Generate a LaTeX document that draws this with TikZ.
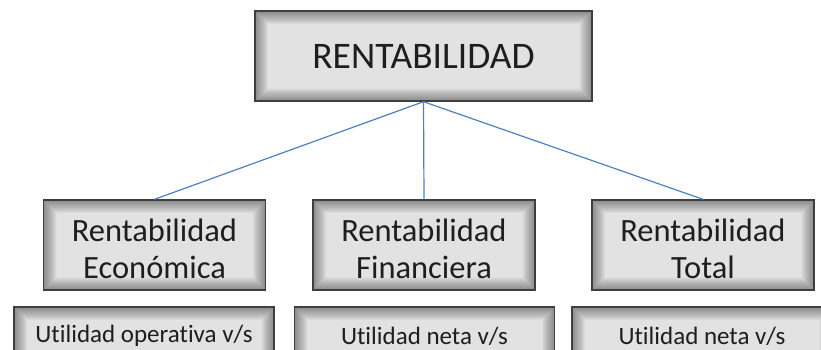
\documentclass[tikz,border=0pt]{standalone}
\usepackage{fontspec}
\setmainfont{Carlito}[Ligatures=NoCommon, Contextuals=NoAlternate, RawFeature={-liga;-clig;-dlig}]
\definecolor{BoxBorder}{HTML}{3F3F3F}
\definecolor{BoxFill}{HTML}{E2E2E2}
\definecolor{LinkBlue}{HTML}{4F81BD}
\definecolor{TextDark}{HTML}{1E1E1E}
% two centred lines, set a little lower in the box
\newcommand{\twolines}[2]{\raisebox{-7.5pt}[\height][\depth]{\begin{tabular}{@{}c@{}}#1\\#2\end{tabular}}}

\begin{document}
\begin{tikzpicture}[
        x=1pt, y=-1pt,
        box/.style={
            rectangle, draw=BoxBorder, line width=1.4pt, fill=BoxFill,
            text=TextDark, align=center, inner sep=0pt,
            path picture={
                \foreach \w in {1,2,...,26}
                    \draw[black, opacity=0.015, line width=\w pt]
                        (path picture bounding box.south west) rectangle (path picture bounding box.north east);
            }
        },
        topbox/.style={box, minimum width=337pt, minimum height=90pt, font=\fontsize{37.5}{40}\selectfont},
        midbox/.style={box, minimum width=222pt, minimum height=90pt, font=\fontsize{32.5}{37}\selectfont},
        lowbox/.style={box, minimum width=260pt, minimum height=58pt, font=\fontsize{25}{30}\selectfont},
        link/.style={LinkBlue, line width=1.2pt}
    ]
    \clip (0,0) rectangle (821,349);

    % Top
    \node (rent) [topbox] at (423.5, 56) {RENTABILIDAD};

    % Middle row
    \node (eco) [midbox] at (154.5, 245) {\twolines{Rentabilidad}{Económica}};
    \node (fin) [midbox] at (424, 245) {\twolines{Rentabilidad}{Financiera}};
    \node (tot) [midbox] at (703, 245) {\twolines{Rentabilidad}{Total}};

    % Lower row
    \node (ecodef) [lowbox] at (144, 336) {Utilidad operativa v/s};
    \node (findef) [lowbox] at (424.5, 336) {Utilidad neta v/s};
    \node (totdef) [lowbox] at (702, 336) {Utilidad neta v/s};

    % Links
    \draw [link] (rent.south) -- (eco.north);
    \draw [link] (rent.south) -- (fin.north);
    \draw [link] (rent.south) -- (tot.north);
\end{tikzpicture}
\end{document}
